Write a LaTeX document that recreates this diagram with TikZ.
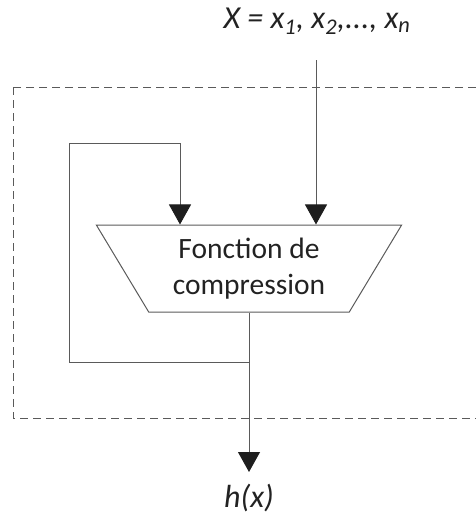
\documentclass[tikz,border=0pt]{standalone}
\usepackage{fontspec}
\setmainfont{Carlito}
\usepackage{tikz}
\usetikzlibrary{arrows.meta,positioning,shapes.geometric}

\definecolor{linegray}{HTML}{5A5A5A}
\definecolor{tipblack}{HTML}{1E1E1E}
\definecolor{textblack}{HTML}{222222}

\tikzset{
    wire/.style={draw=linegray, line width=1pt},
    arr/.style={wire, -{Triangle[width=22pt,length=20pt,tipblack]}},
    compbox/.style={trapezium, shape border rotate=180, trapezium stretches=true,
        trapezium left angle=57, trapezium right angle=57,
        minimum width=306pt, minimum height=87pt, inner sep=0pt,
        draw=linegray, line width=1pt, align=center, text=textblack,
        font=\fontsize{29.5}{36}\selectfont},
    lbl/.style={font=\fontsize{32}{38}\selectfont\itshape, text=textblack, inner sep=0pt}
}

\begin{document}
\begin{tikzpicture}[x=1pt, y=1pt]
    \useasboundingbox (0,0) rectangle (476,-522);

    % Dashed frame
    \draw[linegray, line width=0.9pt, dash pattern=on 8pt off 5pt] (13,-87) rectangle (479,-418);

    % Compression function
    \node[compbox] (comp) at (249,-268.5) {Fonction de\\compression};

    % Message blocks in
    \node[lbl] (msg) at (317,-21) {X = x\textsubscript{1}, x\textsubscript{2},..., x\textsubscript{n}};
    \coordinate (inTop) at (316,-60);
    \draw[arr] (inTop) -- (inTop |- comp.north);

    % Feedback loop
    \coordinate (split) at (comp.south |- 0,-362);
    \coordinate (fbCorner) at (69,-143);
    \coordinate (fbIn) at (comp.north -| 180,0);
    \draw[wire] (split) -| (fbCorner);
    \draw[arr] (fbCorner) -| (fbIn);

    % Output
    \coordinate (outTip) at (comp.south |- 0,-472);
    \node[lbl, below=12pt of outTip] (hx) {h(x)};
    \draw[arr] (comp.south) -- (outTip);
\end{tikzpicture}
\end{document}
